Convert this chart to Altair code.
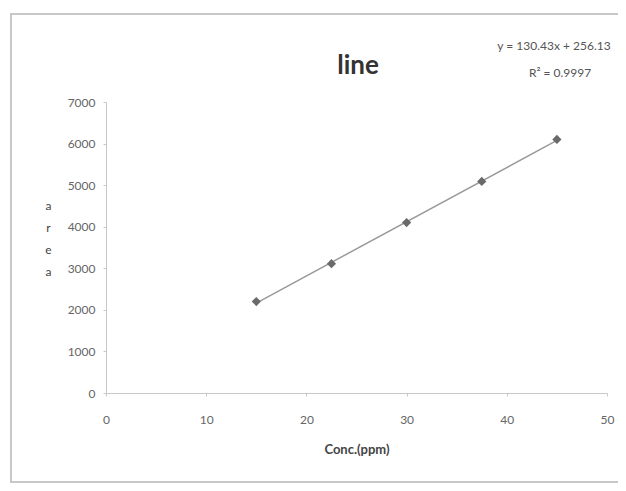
import altair as alt
import pandas as pd

conc = [15, 22.5, 30, 37.5, 45]
area = [2200, 3110, 4100, 5090, 6100]
x_ticks = [0, 10, 20, 30, 40, 50]
y_ticks = [0, 1000, 2000, 3000, 4000, 5000, 6000, 7000]
title_text = "line"
eq_line1 = "y = 130.43x + 256.13"
eq_line2 = "R\u00b2 = 0.9997"

df = pd.DataFrame({"conc": conc, "area": area})

FONT = "Lato"

xenc = alt.X("conc:Q", scale=alt.Scale(domain=[0, 50], nice=False),
             axis=alt.Axis(values=x_ticks, title="Conc.(ppm)", grid=False, format="d",
                           labelPadding=18, titlePadding=18, tickSize=3, labelFlush=False,
                           titleFontWeight="bold", titleFontSize=13))
yenc = alt.Y("area:Q", scale=alt.Scale(domain=[0, 7000], nice=False),
             axis=alt.Axis(values=y_ticks, title=["a", "r", "e", "a"], grid=False, format="d",
                           titleAngle=0, titleX=-58, titleY=98, titleBaseline="top",
                           titleLineHeight=22, titleFontWeight="normal", labelFlush=False,
                           titleFontSize=12, labelPadding=8, tickSize=3))

base = alt.Chart(df)

frame = base.mark_rect(fill=None, stroke="#c8c8c8", strokeWidth=2).encode(
    x=alt.value(-95), x2=alt.value(520), y=alt.value(-88), y2=alt.value(380)
)

trend = base.transform_regression("conc", "area").mark_line(
    color="#9a9a9a", strokeWidth=1.5
).encode(x=xenc, y=yenc)

pts = base.mark_point(shape="diamond", filled=True, size=85, color="#6a6a6a", opacity=1).encode(
    x="conc:Q", y="area:Q"
)

def label(txt, x, y, **kw):
    return alt.Chart(pd.DataFrame({"t": [txt]})).mark_text(
        font=FONT, baseline="middle", **kw
    ).encode(text="t:N", x=alt.value(x), y=alt.value(y))

ttl = label(title_text, 252, -36, fontSize=26, fontWeight=700, color="#333333", align="center")
eq1 = label(eq_line1, 448, -56, fontSize=12, color="#555555", align="center")
eq2 = label(eq_line2, 454, -29, fontSize=12, color="#555555", align="center")

chart = alt.layer(frame, trend, pts, ttl, eq1, eq2).properties(
    width=501, height=291,
    background="white",
    padding={"left": 98, "top": 94, "right": 11, "bottom": 90},
    autosize=alt.AutoSizeParams(type="none"),
).configure_view(stroke=None).configure_axis(
    domainColor="#c8c8c8", tickColor="#c8c8c8", labelColor="#666666",
    labelFont=FONT, titleFont=FONT, labelFontSize=12, titleColor="#444444",
    labelFontWeight="normal"
)

chart.save("out.html", embed_options={"renderer": "svg", "actions": False})
